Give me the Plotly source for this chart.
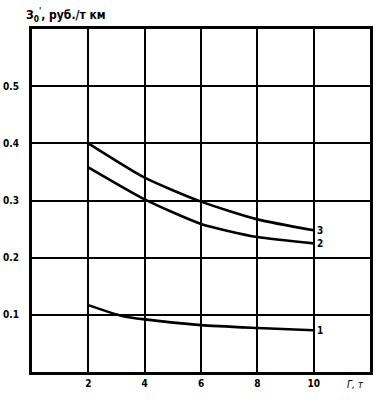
import plotly.graph_objects as go

# data
x_main = [2, 4, 6, 8, 10]
curve3 = [0.400, 0.340, 0.298, 0.267, 0.248]
curve2 = [0.358, 0.302, 0.259, 0.236, 0.225]
x_c1 = [2, 3.2, 4, 6, 8, 10]
curve1 = [0.117, 0.098, 0.092, 0.082, 0.077, 0.073]
curve_names = ["1", "2", "3"]

x_ticks = [2, 4, 6, 8, 10]
y_ticks = [0.1, 0.2, 0.3, 0.4, 0.5]
y_tick_text = ["0.1", "0.2", "0.3", "0.4", "0.5"]

FONT = "DejaVu Sans Condensed, DejaVu Sans, sans-serif"

fig = go.Figure()
series = [(x_c1, curve1), (x_main, curve2), (x_main, curve3)]
for name, (xs, ys) in zip(curve_names, series):
    fig.add_trace(go.Scatter(
        x=xs, y=ys, mode="lines", name=name,
        line=dict(color="black", width=2.6, shape="spline", smoothing=0.6),
        showlegend=False, hoverinfo="x+y"))
    fig.add_annotation(x=xs[-1], y=ys[-1], text="<b>" + name + "</b>",
                       showarrow=False, xanchor="left", yanchor="middle",
                       xshift=1, font=dict(size=10, color="black", family=FONT))

fig.update_xaxes(range=[0, 12], tickvals=x_ticks, ticktext=[f"<b>{v}</b>" for v in x_ticks],
                 showgrid=True, gridcolor="black", gridwidth=2,
                 showline=True, linecolor="black", linewidth=3, mirror=True,
                 zeroline=False, ticks="", automargin=False,
                 tickfont=dict(size=10, color="black", family=FONT))
fig.update_yaxes(range=[0, 0.6], tickvals=y_ticks, ticktext=[f"<b>{t}</b>" for t in y_tick_text],
                 showgrid=True, gridcolor="black", gridwidth=2,
                 showline=True, linecolor="black", linewidth=3, mirror=True,
                 zeroline=False, ticks="", ticklabelstandoff=8, automargin=False,
                 tickfont=dict(size=10, color="black", family=FONT))

fig.add_annotation(xref="paper", yref="paper", x=0.925, y=-0.015, yanchor="top", xanchor="left",
                   text="<i>Г, т</i>", showarrow=False,
                   font=dict(size=10, color="black", family=FONT))
fig.add_annotation(xref="paper", yref="paper", x=-0.025, y=1.01, yanchor="bottom", xanchor="left",
                   text="<b>З<sub>0</sub><sup>'</sup>, руб./т км</b>", showarrow=False,
                   font=dict(size=12, color="black", family=FONT))

fig.update_layout(width=378, height=400, margin=dict(l=32, r=8, t=29, b=28),
                  paper_bgcolor="white", plot_bgcolor="white")

fig.write_html("out.html", config={"displayModeBar": False},
               post_script="document.body.style.margin='0';")
